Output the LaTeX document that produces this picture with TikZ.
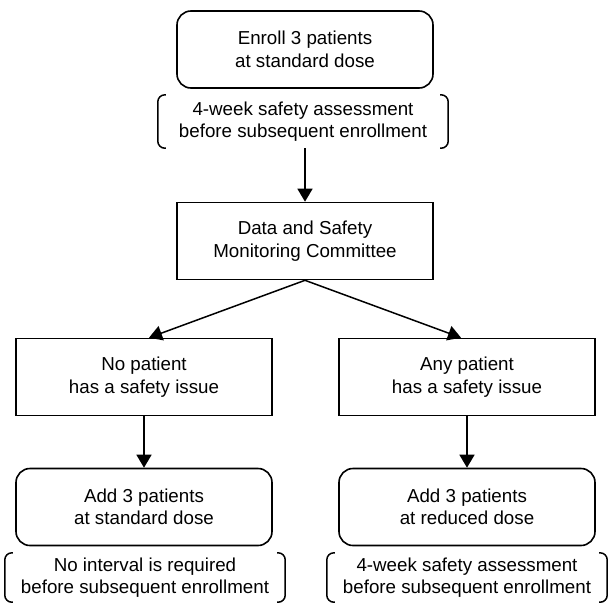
\documentclass[tikz,border=0pt]{standalone}
\usepackage{fontspec}
\setmainfont{Liberation Sans}
\usetikzlibrary{arrows.meta}
\tikzset{
    box/.style={draw, line width=1.6pt, minimum width=256pt, minimum height=77pt, align=center, inner sep=0pt},
    roundbox/.style={box, rounded corners=14pt},
    note/.style={minimum width=290pt, minimum height=53pt, align=center, inner sep=0pt},
    bracket/.style={line width=1.5pt, rounded corners=7pt},
    arrow/.style={line width=1.5pt, -{Triangle[width=15pt,length=13pt]}}
}
\begin{document}
\begin{tikzpicture}[x=1pt, y=-1pt, font=\fontsize{18.75}{22.5}\selectfont]
        \useasboundingbox
            (0,0) rectangle (611,603);
        \node[roundbox] (enroll) at (305,49.5) {Enroll 3 patients\\at standard dose};
        \node[note] (wait1) at (303,121.5) {4-week safety assessment\\before subsequent enrollment};
        \node[box] (dsmc) at (305,241) {Data and Safety\\Monitoring Committee};
        \node[box] (nosafety) at (144,377) {No patient\\has a safety issue};
        \node[box] (anysafety) at (467,377) {Any patient\\has a safety issue};
        \node[roundbox] (addstd) at (144,507) {Add 3 patients\\at standard dose};
        \node[roundbox] (addred) at (467,507) {Add 3 patients\\at reduced dose};
        \node[note, minimum width=280pt, minimum height=49pt] (nointerval) at (145,577.5) {No interval is required\\before subsequent enrollment};
        \node[note, minimum width=280pt, minimum height=49pt] (wait2) at (467,577.5) {4-week safety assessment\\before subsequent enrollment};
        \foreach \n in {wait1,nointerval,wait2}
            \draw[bracket]
                ([xshift=8pt]\n.north west) -- (\n.north west) -- (\n.south west) -- ([xshift=8pt]\n.south west)
                ([xshift=-8pt]\n.north east) -- (\n.north east) -- (\n.south east) -- ([xshift=-8pt]\n.south east);
        \draw[arrow]
            ([xshift=2pt]wait1.south) -- (dsmc.north);
        \draw[arrow]
            (dsmc.south) -- ([xshift=5pt]nosafety.north);
        \draw[arrow]
            (dsmc.south) -- ([xshift=-6pt]anysafety.north);
        \draw[arrow]
            (nosafety.south) -- (addstd.north);
        \draw[arrow]
            (anysafety.south) -- (addred.north);
    \end{tikzpicture}
\end{document}
